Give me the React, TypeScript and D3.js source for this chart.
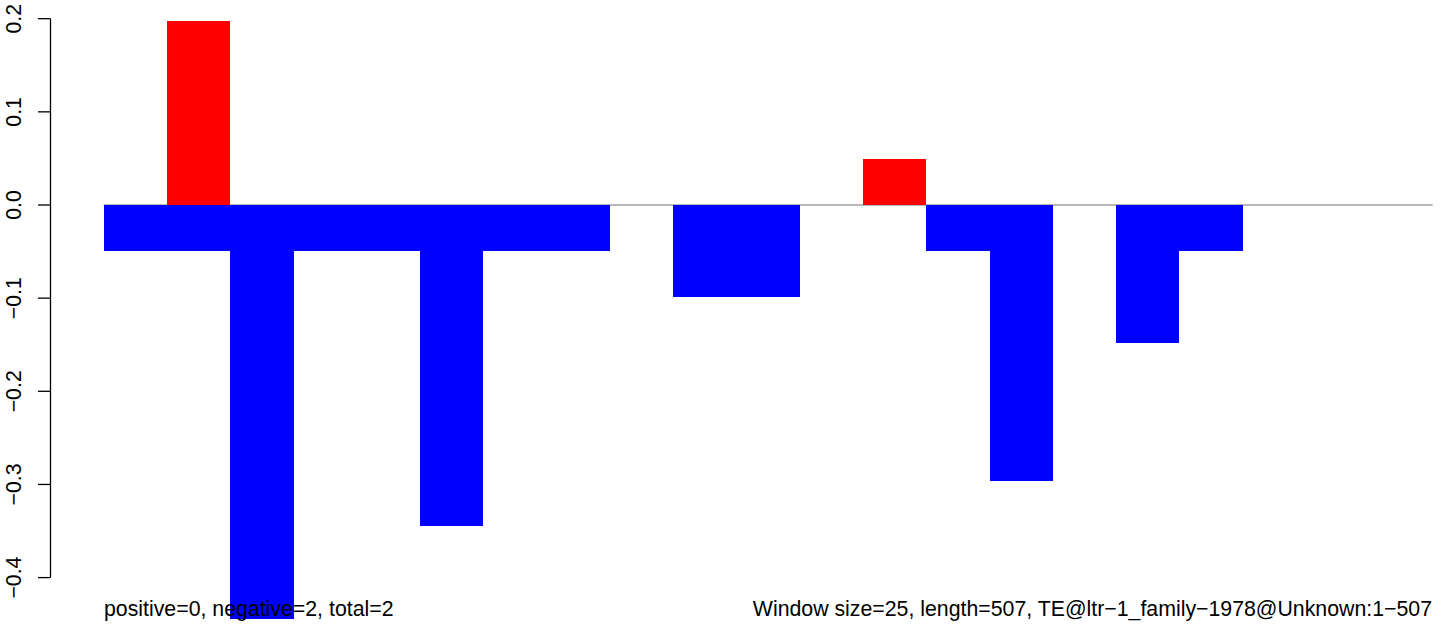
import React, { useEffect, useRef } from "react";
import * as d3 from "d3";

// one bar per 25bp window (21 windows over 507bp)
const windows = d3.range(21);
const positiveValues = [
  0, 0.197, 0, 0, 0, 0, 0, 0, 0, 0, 0, 0, 0.049, 0, 0, 0, 0, 0, 0, 0, 0,
];
const negativeValues = [
  -0.049, -0.049, -0.444, -0.049, -0.049, -0.345, -0.049, -0.049, 0, -0.099,
  -0.099, 0, 0, -0.049, -0.296, 0, -0.148, -0.049, 0, 0, 0,
];
const yTicks = [-0.4, -0.3, -0.2, -0.1, 0.0, 0.1, 0.2];
const leftNote = "positive=0, negative=2, total=2";
const rightNote =
  "Window size=25, length=507, TE@ltr\u22121_family\u22121978@Unknown:1\u2212507";

export default function App() {
  const ref = useRef<SVGSVGElement>(null);

  useEffect(() => {
    const svg = d3.select(ref.current);
    svg.selectAll("*").remove();

    const x = d3
      .scaleBand<number>()
      .domain(windows)
      .range([103.7, 1432.6])
      .padding(0);
    const y = d3.scaleLinear().domain([-0.4, 0.2]).range([577.6, 18.7]);

    const font = "'Liberation Sans', Arial, Helvetica, sans-serif";
    const fontSize = 21.3;

    // zero line
    svg
      .append("line")
      .attr("x1", x(0)!)
      .attr("x2", x(20)! + x.bandwidth())
      .attr("y1", y(0))
      .attr("y2", y(0))
      .attr("stroke", "#a0a0a0")
      .attr("stroke-width", 1.3);

    svg
      .append("g")
      .selectAll("rect")
      .data(windows.filter((i) => negativeValues[i] !== 0))
      .join("rect")
      .attr("x", (i) => x(i)!)
      .attr("y", y(0))
      .attr("width", x.bandwidth())
      .attr("height", (i) => y(negativeValues[i]) - y(0))
      .attr("fill", "#0000ff")
      .attr("shape-rendering", "crispEdges");

    svg
      .append("g")
      .selectAll("rect")
      .data(windows.filter((i) => positiveValues[i] !== 0))
      .join("rect")
      .attr("x", (i) => x(i)!)
      .attr("y", (i) => y(positiveValues[i]))
      .attr("width", x.bandwidth())
      .attr("height", (i) => y(0) - y(positiveValues[i]))
      .attr("fill", "#ff0000")
      .attr("shape-rendering", "crispEdges");

    // y axis, R style
    const axisX = 50.5;
    const ax = svg.append("g");
    ax.append("line")
      .attr("x1", axisX)
      .attr("x2", axisX)
      .attr("y1", y(-0.4))
      .attr("y2", y(0.2))
      .attr("stroke", "black")
      .attr("stroke-width", 1.3);
    ax.selectAll("line.tick")
      .data(yTicks)
      .join("line")
      .attr("class", "tick")
      .attr("x1", axisX - 12.5)
      .attr("x2", axisX)
      .attr("y1", (d) => y(d))
      .attr("y2", (d) => y(d))
      .attr("stroke", "black")
      .attr("stroke-width", 1.3);
    ax.selectAll("text")
      .data(yTicks)
      .join("text")
      .attr("transform", (d) => `translate(20.5,${y(d)}) rotate(-90)`)
      .attr("text-anchor", "middle")
      .attr("font-family", font)
      .attr("font-size", fontSize)
      .text((d) => d3.format(".1f")(d).replace("-", "\u2212"));

    svg
      .append("text")
      .attr("x", 104)
      .attr("y", 616)
      .attr("font-family", font)
      .attr("font-size", fontSize)
      .text(leftNote);
    svg
      .append("text")
      .attr("x", 1432)
      .attr("y", 616)
      .attr("text-anchor", "end")
      .attr("font-family", font)
      .attr("font-size", fontSize)
      .text(rightNote);
  }, []);

  return (
    <svg
      ref={ref}
      width={1444}
      height={630}
      style={{ position: "absolute", left: 0, top: 0, background: "white" }}
    />
  );
}
